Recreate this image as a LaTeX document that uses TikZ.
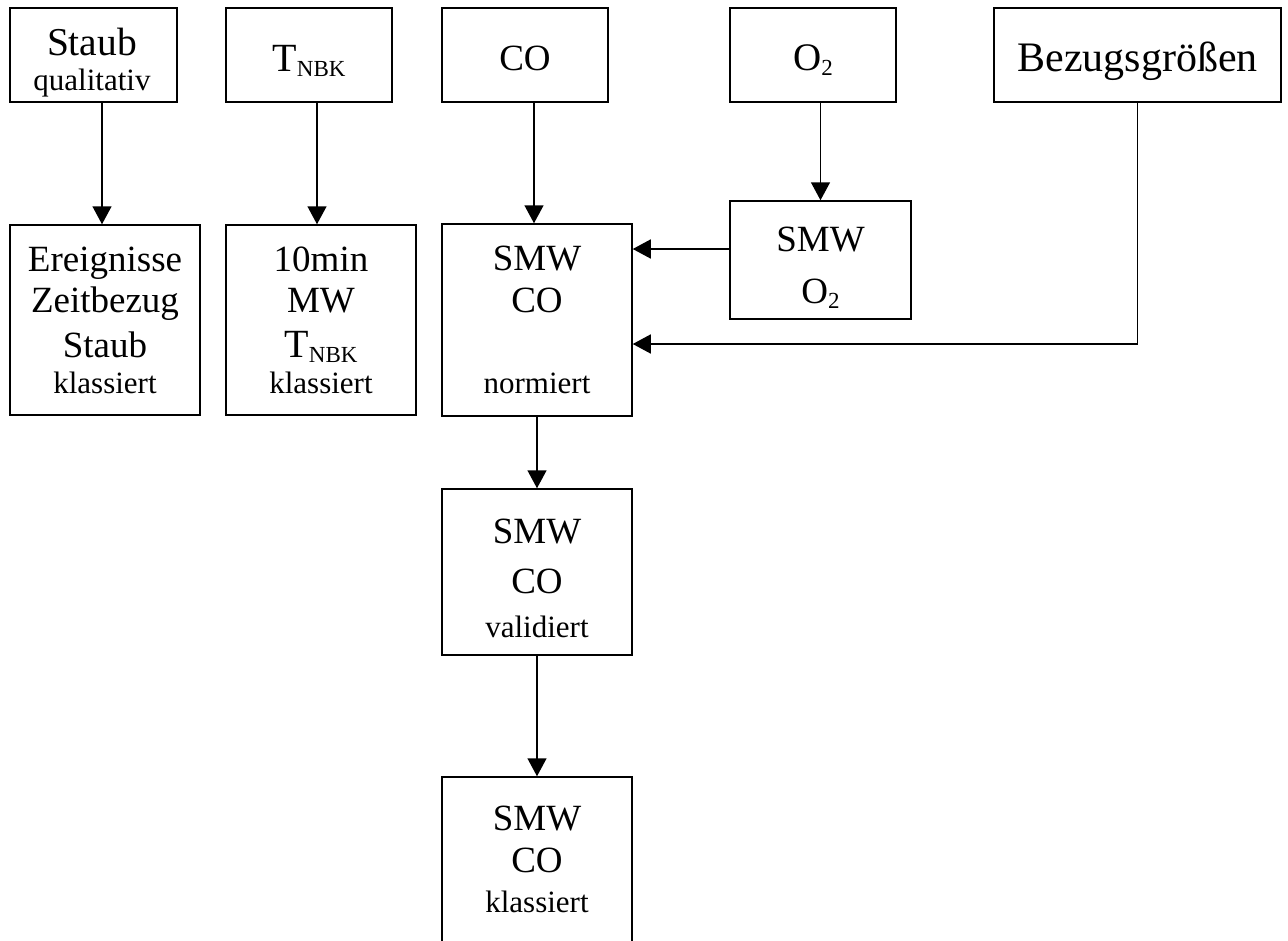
\documentclass[tikz,border=0pt]{standalone}
\usepackage{fontspec}
\setmainfont{Liberation Serif}
\usetikzlibrary{arrows.meta}
\newcommand{\subNBK}{\raisebox{-5pt}{\fontsize{23}{23}\selectfont NBK}}
\newcommand{\subtwo}{\raisebox{-5pt}{\fontsize{23}{23}\selectfont 2}}
\begin{document}
\begin{tikzpicture}[x=1pt,y=-1pt,
  box/.style={draw, line width=1.5pt, inner sep=0pt},
  arr/.style={line width=1.5pt, -{Triangle[length=18pt,width=19pt]}},
  txt/.style={anchor=base, inner sep=0pt, font=\fontsize{37}{40}\selectfont},
  txtsm/.style={anchor=base, inner sep=0pt, font=\fontsize{31}{34}\selectfont}]
\clip (0,0) rectangle (1288,940);
\fill[white] (0,0) rectangle (1288,940);
% top row
\node[box, minimum width=167pt, minimum height=94pt] (staubq) at (93.5,55) {};
\node[box, minimum width=166pt, minimum height=94pt] (tnbk) at (309,55) {};
\node[box, minimum width=166pt, minimum height=94pt] (co) at (525,55) {};
\node[box, minimum width=166pt, minimum height=94pt] (o2) at (813,55) {};
\node[box, minimum width=287pt, minimum height=94pt] (bez) at (1137.5,55) {};
% second row
\node[box, minimum width=190pt, minimum height=190pt] (ereig) at (105,320) {};
\node[box, minimum width=190pt, minimum height=190pt] (tenmin) at (321,320) {};
\node[box, minimum width=190pt, minimum height=192pt] (norm) at (537,320) {};
\node[box, minimum width=181pt, minimum height=118pt] (smwo2) at (820.5,260) {};
% lower
\node[box, minimum width=190pt, minimum height=166pt] (valid) at (537,572) {};
\node[box, minimum width=190pt, minimum height=190pt] (klass) at (537,872) {};
% texts top row
\node[txt, font=\fontsize{39.5}{42}\selectfont] (t1a) at (92,55) {Staub};
\node[txtsm] (t1b) at (92,90) {qualitativ};
\node[txt, font=\fontsize{40}{42}\selectfont] (t2) at (309,71) {T\subNBK};
\node[txt] (t3) at (525,70) {CO};
\node[txt, font=\fontsize{39}{42}\selectfont] (t4) at (813,70) {O\subtwo};
\node[txt, font=\fontsize{42}{44}\selectfont] (t5) at (1137.5,71) {Bezugsgrößen};
% texts second row
\node[txt] (e1) at (105,271) {Ereignisse};
\node[txt] (e2) at (105,312) {Zeitbezug};
\node[txt] (e3) at (105,357) {Staub};
\node[txtsm] (e4) at (105,393) {klassiert};
\node[txt] (m1) at (321,271) {10min};
\node[txt] (m2) at (321,312) {MW};
\node[txt, font=\fontsize{40}{42}\selectfont] (m3) at (321,357) {T\subNBK};
\node[txtsm] (m4) at (321,393) {klassiert};
\node[txt] (n1) at (537,270) {SMW};
\node[txt] (n2) at (537,312) {CO};
\node[txtsm] (n3) at (537,393) {normiert};
\node[txt] (s1) at (820.5,251) {SMW};
\node[txt] (s2) at (820.5,303) {O\subtwo};
% lower texts
\node[txt] (v1) at (537,543) {SMW};
\node[txt] (v2) at (537,593) {CO};
\node[txtsm] (v3) at (537,637) {validiert};
\node[txt] (k1) at (537,830) {SMW};
\node[txt] (k2) at (537,872) {CO};
\node[txtsm] (k3) at (537,912) {klassiert};
% connectors
\draw[arr] ([xshift=8.5pt]staubq.south) -- ([xshift=8.5pt]staubq.south |- ereig.north);
\draw[arr] ([xshift=8pt]tnbk.south) -- ([xshift=8pt]tnbk.south |- tenmin.north);
\draw[arr] ([xshift=9pt]co.south) -- ([xshift=9pt]co.south |- norm.north);
\draw[arr] (smwo2.north |- o2.south) -- (smwo2.north);
\draw[arr] ([yshift=11pt]smwo2.west) -- ([yshift=11pt]smwo2.west -| norm.east);
\draw[arr] (bez.south) |- ([yshift=-24pt]norm.east);
\draw[arr] (norm.south) -- (valid.north);
\draw[arr] (valid.south) -- (klass.north);
\end{tikzpicture}
\end{document}
